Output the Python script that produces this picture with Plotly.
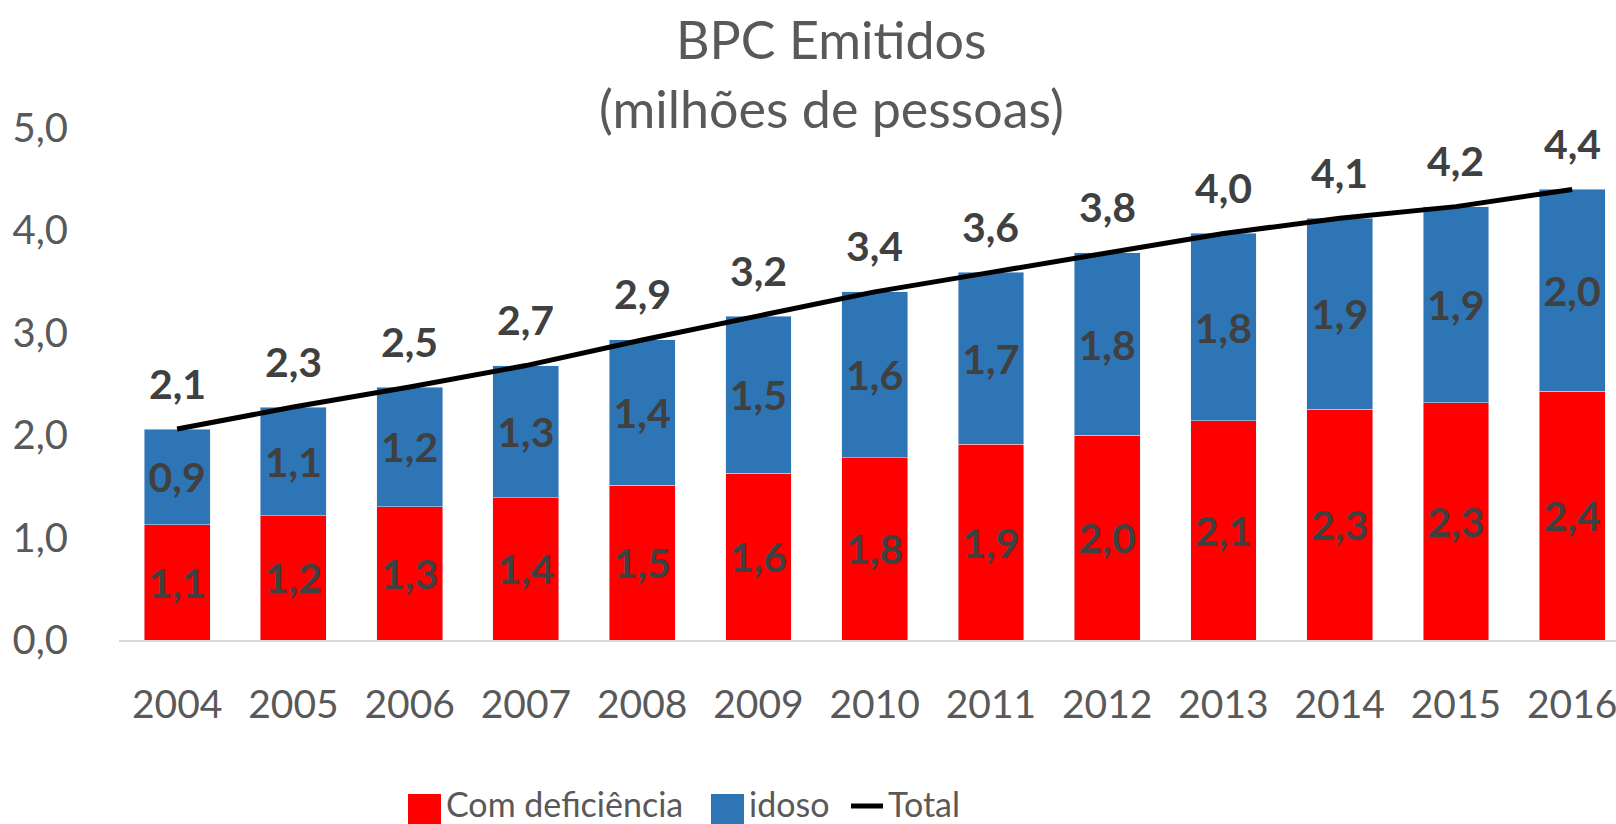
import plotly.graph_objects as go

years = ["2004", "2005", "2006", "2007", "2008", "2009", "2010",
         "2011", "2012", "2013", "2014", "2015", "2016"]
com_deficiencia = [1.126, 1.214, 1.30, 1.39, 1.51, 1.63, 1.78,
                   1.91, 2.00, 2.14, 2.253, 2.317, 2.43]
idoso = [0.934, 1.061, 1.17, 1.29, 1.42, 1.53, 1.62,
         1.68, 1.78, 1.83, 1.865, 1.915, 1.97]
total = [round(a + b, 3) for a, b in zip(com_deficiencia, idoso)]

series_names = ["Com deficiência", "idoso", "Total"]
colors = ["#FF0000", "#2E75B6", "#000000"]
y_ticks = [0, 1, 2, 3, 4, 5]
title_lines = ["BPC Emitidos", "(milhões de pessoas)"]

FONT = "Lato"
LABEL_COLOR = "#404040"
TICK_COLOR = "#595959"

fig = go.Figure()
for name, vals, col in zip(series_names[:2], [com_deficiencia, idoso], colors[:2]):
    fig.add_trace(go.Bar(
        x=years, y=vals, name=name, marker_color=col, width=0.566,
        texttemplate="%{y:.1f}", textposition="inside",
        insidetextanchor="middle", textangle=0, constraintext="none",
        textfont=dict(family=FONT, size=41, color=LABEL_COLOR, weight="bold"),
        showlegend=False,
    ))

fig.add_trace(go.Scatter(
    x=years, y=total, name=series_names[2], mode="lines",
    line=dict(color=colors[2], width=5), showlegend=False,
))

annotations = []
for i, t in enumerate(total):
    annotations.append(dict(
        x=i, y=t, xref="x", yref="y", text=f"{t:.1f}".replace(".", ","),
        showarrow=False, yanchor="middle", yshift=46,
        font=dict(family=FONT, size=41, color=LABEL_COLOR, weight="bold"),
    ))

PLOT_TOP, PLOT_BOTTOM = 128, 640
H = PLOT_BOTTOM - PLOT_TOP
def py(pix):
    return (PLOT_BOTTOM - pix) / H

W0, W1 = 119, 1616
PW = W1 - W0
def px(pix):
    return (pix - W0) / PW

# Title (two centred lines)
for line, ycen in zip(title_lines, [39, 108]):
    annotations.append(dict(
        x=px(831), y=py(ycen), xref="paper", yref="paper",
        xanchor="center", yanchor="middle", text=line, showarrow=False,
        font=dict(family=FONT, size=52, color=TICK_COLOR),
    ))

# Custom legend (Excel style)
shapes = []
legend_x = [408, 711, 849]
text_x = [444, 747, 886]
for i, (name, col) in enumerate(zip(series_names, colors)):
    if i < 2:
        shapes.append(dict(type="rect", xref="paper", yref="paper",
                           x0=px(legend_x[i]), x1=px(legend_x[i] + 33),
                           y0=py(827), y1=py(794), fillcolor=col,
                           line=dict(width=0), layer="above"))
    else:
        shapes.append(dict(type="line", xref="paper", yref="paper",
                           x0=px(legend_x[i] + 2), x1=px(legend_x[i] + 34),
                           y0=py(806), y1=py(806),
                           line=dict(color=col, width=5)))
    annotations.append(dict(
        x=px(text_x[i]), y=py(803), xref="paper", yref="paper",
        xanchor="left", yanchor="middle", text=name, showarrow=False,
        font=dict(family=FONT, size=34, color=TICK_COLOR),
    ))

fig.update_layout(
    width=1616, height=824,
    margin=dict(l=119, r=0, t=128, b=184, pad=0),
    paper_bgcolor="white", plot_bgcolor="white",
    barmode="stack", separators=",.",
    showlegend=False,
    annotations=annotations, shapes=shapes,
    xaxis=dict(type="category", range=[-0.5, 12.377], showgrid=False,
               showline=True, linecolor="#D9D9D9", linewidth=1.5,
               ticks="", ticklabelstandoff=29,
               tickfont=dict(family=FONT, size=39, color=TICK_COLOR)),
    yaxis=dict(range=[0, 5], tickvals=y_ticks, tickformat=".1f",
               showgrid=False, zeroline=False, showline=False, ticks="",
               ticklabelstandoff=50,
               tickfont=dict(family=FONT, size=40, color=TICK_COLOR)),
)

fig.write_html("out.html", config={"displayModeBar": False},
               post_script="document.body.style.margin='0px';document.body.style.overflow='hidden';")
